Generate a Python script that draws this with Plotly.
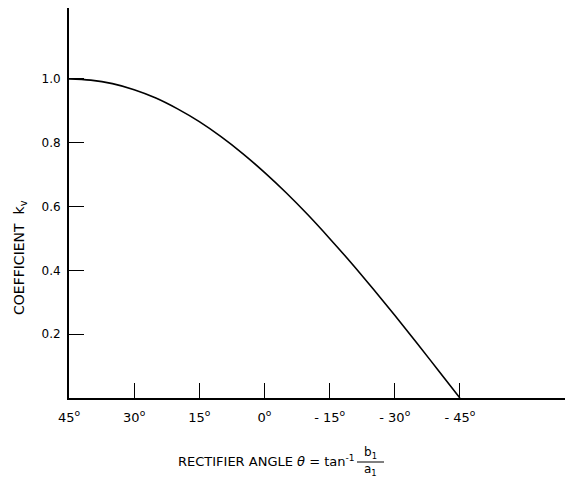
import plotly.graph_objects as go

# Rectifier angle (degrees) and coefficient k_v
angle_deg = [45, 40, 35, 30, 25, 20, 15, 10, 5, 0, -5, -10, -15, -20, -25, -30, -35, -40, -45]
k_v = [1.000, 0.996, 0.985, 0.966, 0.940, 0.906, 0.866, 0.819, 0.766, 0.707,
       0.643, 0.574, 0.500, 0.423, 0.342, 0.259, 0.174, 0.087, 0.000]

x_tick_vals = [45, 30, 15, 0, -15, -30, -45]
x_tick_text = ["45<sup>o</sup>", "30<sup>o</sup>", "15<sup>o</sup>", "0<sup>o</sup>",
               "- 15<sup>o</sup>", "- 30<sup>o</sup>", "- 45<sup>o</sup>"]
y_tick_vals = [0.2, 0.4, 0.6, 0.8, 1.0]
y_tick_text = ["0.2", "0.4", "0.6", "0.8", "1.0"]

W, H = 565, 477
L, R, T, B = 69, 0, 8, 79
FONT = "DejaVu Sans, Liberation Sans, sans-serif"

fig = go.Figure()
fig.add_trace(go.Scatter(
    x=angle_deg, y=k_v, mode="lines",
    line=dict(color="black", width=1.6, shape="spline"),
    hoverinfo="skip", showlegend=False,
))

def px(xp):
    return (xp - L) / (W - L - R)

def py(yp):
    return (H - B - yp) / (H - T - B)

fig.update_layout(
    width=W, height=H,
    margin=dict(l=L, r=R, t=T, b=B),
    paper_bgcolor="white", plot_bgcolor="white",
    font=dict(family=FONT, color="black", size=13),
    xaxis=dict(
        range=[45, -69.2], showgrid=False, zeroline=False,
        showline=True, linecolor="black", linewidth=2,
        ticks="inside", ticklen=15, tickwidth=1.4, tickcolor="black",
        tickvals=x_tick_vals, ticktext=x_tick_text,
        tickfont=dict(size=13, family=FONT), ticklabelstandoff=6,
        fixedrange=True,
    ),
    yaxis=dict(
        range=[0, 1.222], showgrid=False, zeroline=False,
        showline=True, linecolor="black", linewidth=2,
        ticks="inside", ticklen=15, tickwidth=1.4, tickcolor="black",
        tickvals=y_tick_vals, ticktext=y_tick_text,
        tickfont=dict(size=12, family=FONT), ticklabelstandoff=4,
        fixedrange=True,
    ),
)

# y-axis title
fig.add_annotation(
    text="COEFFICIENT  k<sub>v</sub>", textangle=-90,
    xref="paper", yref="paper", x=px(20), y=py(258),
    showarrow=False, font=dict(size=14, family=FONT),
    xanchor="center", yanchor="middle",
)

# x-axis title pieces
fig.add_annotation(
    text="RECTIFIER ANGLE <i>θ</i> = tan<sup>-1</sup>",
    xref="paper", yref="paper", x=px(176), y=py(461),
    showarrow=False, font=dict(size=13, family=FONT),
    xanchor="left", yanchor="middle",
)
fig.add_annotation(
    text="b<sub>1</sub>", xref="paper", yref="paper", x=px(370), y=py(453),
    showarrow=False, font=dict(size=12, family=FONT), xanchor="center", yanchor="middle",
)
fig.add_annotation(
    text="a<sub>1</sub>", xref="paper", yref="paper", x=px(370), y=py(470),
    showarrow=False, font=dict(size=12, family=FONT), xanchor="center", yanchor="middle",
)
fig.add_shape(
    type="line", xref="paper", yref="paper",
    x0=px(357), x1=px(384), y0=py(462), y1=py(462),
    line=dict(color="black", width=1),
)

fig.write_html(
    "out.html",
    config={"displayModeBar": False},
    post_script="document.body.style.margin='0';document.body.style.overflow='hidden';",
)
